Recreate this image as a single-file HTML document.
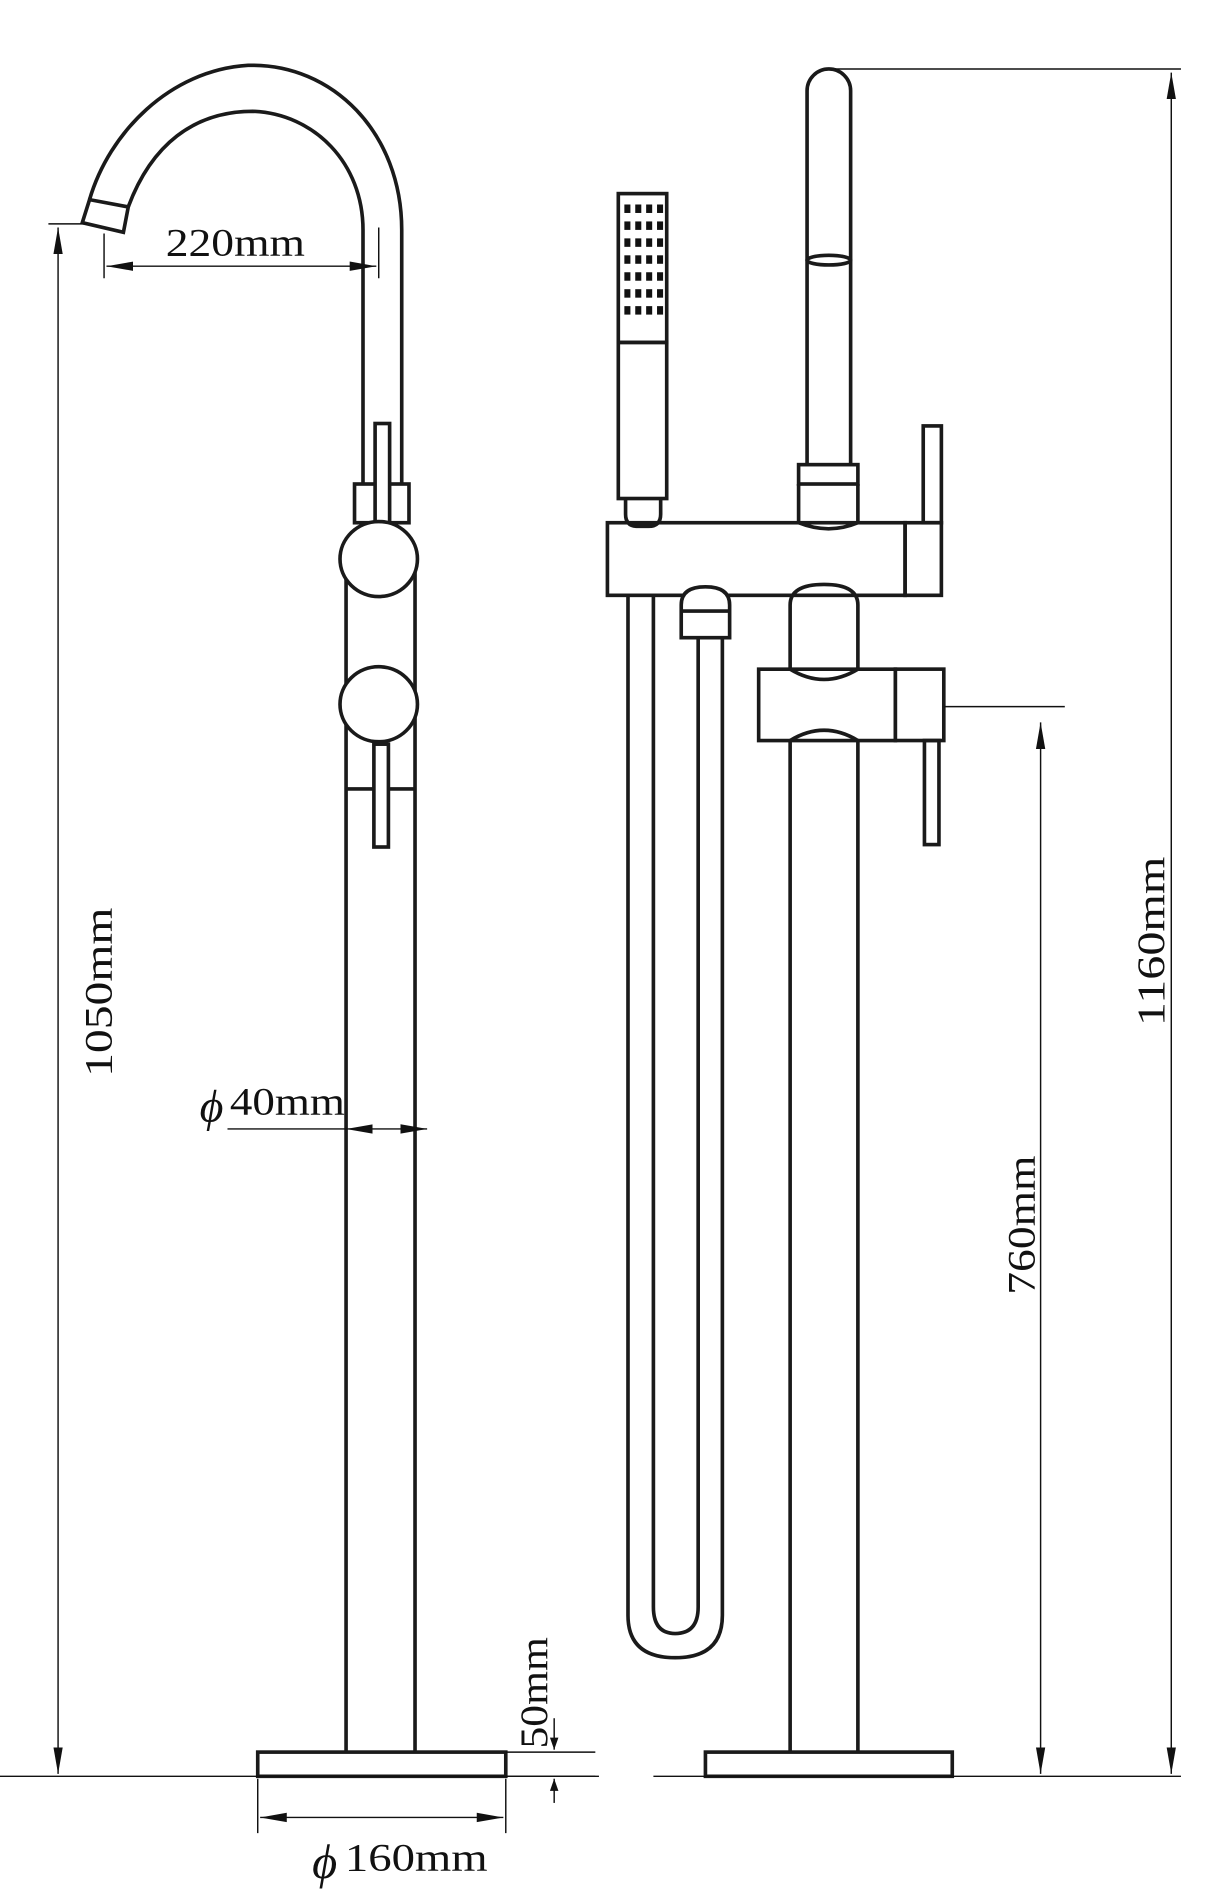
<!DOCTYPE html>
<html><head><meta charset="utf-8"><style>
html,body{margin:0;padding:0;background:#fff;}
svg{display:block;}
text{font-family:"Liberation Serif",serif;fill:#111;}
</style></head><body>
<svg width="1210" height="1899" viewBox="0 0 1000 1569.4" preserveAspectRatio="none" xmlns="http://www.w3.org/2000/svg">
<defs>
<marker id="a" viewBox="0 0 10 10" refX="10" refY="5" markerWidth="10" markerHeight="10" markerUnits="userSpaceOnUse" orient="auto-start-reverse"><path d="M0,1.5 L10,5 L0,8.5 Z" fill="#111"/></marker>
<marker id="b" viewBox="0 0 20 10" refX="20" refY="5" markerWidth="22" markerHeight="11" markerUnits="userSpaceOnUse" orient="auto-start-reverse"><path d="M0,1.5 L20,5 L0,8.5 Z" fill="#111"/></marker>
</defs>
<g fill="none" stroke="#1a1a1a" stroke-width="3">
<!-- LEFT FAUCET -->
<path d="M74,165 C90,110 140,58 205,54 C275,52 332,110 332,190 L332,400"/>
<path d="M106,171 C125,120 160,92 209,92 C260,94 300,135 300,190 L300,400"/>
<path d="M74,165 L68,184 L102,192 L106,171 Z"/>
<rect x="293" y="400" width="45" height="32"/>
<rect x="310" y="350" width="12" height="82" fill="#fff"/>
<path d="M286,470 L286,1448 M343,470 L343,1448"/>
<ellipse cx="313" cy="462" rx="32" ry="31" fill="#fff"/>
<ellipse cx="313" cy="582" rx="32" ry="31" fill="#fff"/>
<path d="M286,652 L343,652"/>
<rect x="309" y="615" width="12" height="85" fill="#fff"/>
<rect x="213" y="1448" width="205" height="20"/>

<!-- RIGHT FAUCET -->
<path d="M667,384 L667,75 A18,18 0 0 1 703,75 L703,384"/>
<ellipse cx="685" cy="215" rx="18" ry="4"/>
<rect x="660" y="384" width="49" height="16"/>
<path d="M660,400 L660,432 Q685,442 709,432 L709,400"/>
<rect x="502" y="432" width="246" height="60"/>
<rect x="748" y="432" width="30" height="60"/>
<rect x="763" y="352" width="15" height="80"/>
<rect x="511" y="160" width="40" height="123"/>
<rect x="511" y="283" width="40" height="129"/>
<path d="M517,412 L517,425 Q517,435 527,435 L536,435 Q546,435 546,425 L546,412"/>
<g fill="#111" stroke="none">
<rect x="516" y="169" width="5" height="7"/><rect x="525" y="169" width="5" height="7"/><rect x="534" y="169" width="5" height="7"/><rect x="543" y="169" width="5" height="7"/>
<rect x="516" y="183" width="5" height="7"/><rect x="525" y="183" width="5" height="7"/><rect x="534" y="183" width="5" height="7"/><rect x="543" y="183" width="5" height="7"/>
<rect x="516" y="197" width="5" height="7"/><rect x="525" y="197" width="5" height="7"/><rect x="534" y="197" width="5" height="7"/><rect x="543" y="197" width="5" height="7"/>
<rect x="516" y="211" width="5" height="7"/><rect x="525" y="211" width="5" height="7"/><rect x="534" y="211" width="5" height="7"/><rect x="543" y="211" width="5" height="7"/>
<rect x="516" y="225" width="5" height="7"/><rect x="525" y="225" width="5" height="7"/><rect x="534" y="225" width="5" height="7"/><rect x="543" y="225" width="5" height="7"/>
<rect x="516" y="239" width="5" height="7"/><rect x="525" y="239" width="5" height="7"/><rect x="534" y="239" width="5" height="7"/><rect x="543" y="239" width="5" height="7"/>
<rect x="516" y="253" width="5" height="7"/><rect x="525" y="253" width="5" height="7"/><rect x="534" y="253" width="5" height="7"/><rect x="543" y="253" width="5" height="7"/>
</g>
<!-- hose -->
<path d="M519,492 L519,1335 Q519,1370 558,1370 Q597,1370 597,1335 L597,527"/>
<path d="M540,492 L540,1328 Q540,1350 558,1350 Q577,1350 577,1328 L577,527"/>
<path d="M563,527 L563,500 Q563,485 583,485 Q603,485 603,500 L603,527 Z" fill="#fff"/>
<path d="M563,505 L603,505"/>
<!-- pillar -->
<path d="M653,1448 L653,500 Q653,483 681,483 Q709,483 709,500 L709,1448"/>
<path d="M627,553 L740,553 L740,612 L627,612 Z" fill="#fff"/>
<path d="M653,553 Q681,570 709,553 M653,612 Q681,595 709,612"/>
<rect x="740" y="553" width="40" height="59" fill="#fff"/>
<rect x="764" y="612" width="12" height="86"/>
<rect x="583" y="1448" width="204" height="20"/>
</g>

<!-- DIMENSIONS -->
<g stroke="#111" stroke-width="1.2" fill="none">
<path d="M0,1468 L495,1468 M540,1468 L976,1468"/>
<path d="M40,185 L72,185"/>
<path d="M48,188 L48,1466" marker-start="url(#b)" marker-end="url(#b)"/>
<path d="M86,193 L86,230 M313,188 L313,230"/>
<path d="M88,220 L311,220" marker-start="url(#b)" marker-end="url(#b)"/>
<path d="M188,933 L286,933"/>
<path d="M286,933 L353,933" marker-start="url(#b)" marker-end="url(#b)"/>
<path d="M418,1448 L492,1448 M418,1468 L492,1468"/>
<path d="M458,1420 L458,1446" marker-end="url(#a)"/>
<path d="M458,1490 L458,1470" marker-end="url(#a)"/>
<path d="M213,1470 L213,1515 M418,1470 L418,1515"/>
<path d="M215,1502 L416,1502" marker-start="url(#b)" marker-end="url(#b)"/>
<path d="M690,57 L976,57"/>
<path d="M968,60 L968,1466" marker-start="url(#b)" marker-end="url(#b)"/>
<path d="M780,584 L880,584"/>
<path d="M860,597 L860,1466" marker-start="url(#b)" marker-end="url(#b)"/>
</g>
<g font-size="32">
<text x="137" y="211" textLength="115" lengthAdjust="spacingAndGlyphs">220mm</text>
<text x="190" y="921" textLength="95" lengthAdjust="spacingAndGlyphs">40mm</text>
<text x="165" y="927" font-size="38" font-style="italic">ϕ</text>
<text x="285" y="1546" textLength="118" lengthAdjust="spacingAndGlyphs">160mm</text>
<text x="258" y="1552" font-size="40" font-style="italic">ϕ</text>
<text transform="translate(92,890) rotate(-90)" textLength="140" lengthAdjust="spacingAndGlyphs">1050mm</text>
<text transform="translate(452,1445) rotate(-90)" textLength="92" lengthAdjust="spacingAndGlyphs">50mm</text>
<text transform="translate(962,848) rotate(-90)" textLength="140" lengthAdjust="spacingAndGlyphs">1160mm</text>
<text transform="translate(855,1070) rotate(-90)" textLength="115" lengthAdjust="spacingAndGlyphs">760mm</text>
</g>
</svg>
</body></html>
